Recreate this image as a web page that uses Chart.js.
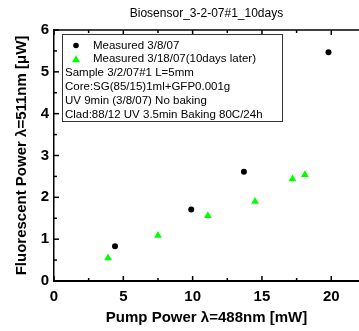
<!DOCTYPE html>
<html>
<head>
<meta charset="utf-8">
<script src="https://cdn.jsdelivr.net/npm/chart.js@4.4.0/dist/chart.umd.min.js"></script>
<style>
html, body { margin: 0; padding: 0; background: #fff; }
</style>
</head>
<body>
<canvas id="grafico" width="359" height="331"></canvas>
<script>
// datos
var medido_x = [4.4, 9.9, 13.7, 19.8];
var medido_y = [0.83, 1.71, 2.61, 5.47];
var despues_x = [3.9, 7.5, 11.1, 14.5, 17.2, 18.1];
var despues_y = [0.55, 1.09, 1.56, 1.9, 2.44, 2.54];
var nombre_series = ['Measured 3/8/07', 'Measured 3/18/07(10days later)'];
var notas = [
	'Sample 3/2/07#1 L=5mm',
	'Core:SG(85/15)1ml+GFP0.001g',
	'UV 9min (3/8/07) No baking',
	'Clad:88/12 UV 3.5min Baking 80C/24h'
];
var x_ticks = [0, 5, 10, 15, 20];
var y_ticks = [0, 1, 2, 3, 4, 5, 6];

function puntos(xs, ys) {
	var out = [];
	for (var i in xs) {
		out.push({x: xs[i], y: ys[i]});
	}
	return out;
}

// ticks hacia adentro + marco + caja de leyenda
var extras = {
	id: 'extras',
	afterDatasetsDraw: function(chart) {
		var ctx = chart.ctx;
		var a = chart.chartArea;
		var sx = chart.scales.x, sy = chart.scales.y;
		ctx.save();
		ctx.strokeStyle = '#000';
		ctx.lineWidth = 1.5;
		// linea de arriba
		ctx.beginPath();
		ctx.moveTo(a.left, a.top);
		ctx.lineTo(a.right, a.top);
		ctx.stroke();
		// ticks x
		for (var v = 0; v <= sx.max; v += 2.5) {
			var px = sx.getPixelForValue(v);
			var len = (v % 5 === 0) ? 5 : 3;
			ctx.beginPath();
			ctx.moveTo(px, a.bottom);
			ctx.lineTo(px, a.bottom - len);
			ctx.moveTo(px, a.top);
			ctx.lineTo(px, a.top + len);
			ctx.stroke();
		}
		// ticks y
		for (var w = 0; w <= sy.max; w += 0.5) {
			var py = sy.getPixelForValue(w);
			var l2 = (w % 1 === 0) ? 5 : 3;
			ctx.beginPath();
			ctx.moveTo(a.left, py);
			ctx.lineTo(a.left + l2, py);
			ctx.stroke();
		}
		// caja de leyenda
		var bx = 62, by = 34, bw = 220, bh = 87;
		ctx.fillStyle = '#fff';
		ctx.fillRect(bx, by, bw, bh);
		ctx.lineWidth = 1;
		ctx.strokeStyle = '#333';
		ctx.strokeRect(bx + 0.5, by + 0.5, bw, bh);

		ctx.font = '11.5px "Liberation Sans"';
		ctx.textBaseline = 'middle';
		ctx.fillStyle = '#000';
		var fila = 13.8;
		var y0 = 45.5;
		// marcadores
		ctx.beginPath();
		ctx.arc(76, y0, 2.8, 0, Math.PI * 2);
		ctx.fill();
		ctx.fillStyle = '#00ff00';
		ctx.beginPath();
		ctx.moveTo(76, y0 + fila - 4);
		ctx.lineTo(80, y0 + fila + 3);
		ctx.lineTo(72, y0 + fila + 3);
		ctx.closePath();
		ctx.fill();
		ctx.fillStyle = '#000';
		ctx.fillText(nombre_series[0], 93, y0);
		ctx.fillText(nombre_series[1], 93, y0 + fila);
		for (var i = 0; i < notas.length; i++) {
			ctx.fillText(notas[i], 65, y0 + fila * (i + 2));
		}
		ctx.restore();
	}
};

var chartdata = {
	datasets: [
		{
			label: nombre_series[0],
			data: puntos(medido_x, medido_y),
			pointStyle: 'circle',
			pointRadius: 3,
			backgroundColor: '#000',
			borderColor: '#000',
			borderWidth: 0,
			showLine: false
		},
		{
			label: nombre_series[1],
			data: puntos(despues_x, despues_y),
			pointStyle: 'triangle',
			pointRadius: 4.5,
			backgroundColor: '#00ff00',
			borderColor: '#00ff00',
			borderWidth: 0,
			showLine: false
		}
	]
};

var ctx = document.getElementById('grafico');

var grafico = new Chart(ctx, {
	type: 'scatter',
	data: chartdata,
	options: {
		responsive: false,
		animation: false,
		devicePixelRatio: 1,
		layout: { autoPadding: false, padding: 0 },
		plugins: {
			legend: { display: false },
			tooltip: { enabled: false },
			title: {
				display: true,
				fullSize: false,
				text: 'Biosensor_3-2-07#1_10days',
				color: '#000',
				font: { family: 'Liberation Sans', size: 12, weight: 'normal', lineHeight: 1.2 },
				padding: { top: 6, bottom: 9.6 }
			}
		},
		scales: {
			x: {
				type: 'linear',
				min: 0,
				max: 22,
				afterBuildTicks: function(s) { s.ticks = x_ticks.map(function(v) { return {value: v}; }); },
				afterFit: function(s) { s.height = 50; },
				grid: { display: false, drawTicks: false },
				border: { display: true, color: '#000', width: 2 },
				ticks: {
					padding: 7,
					maxRotation: 0,
					color: '#000',
					font: { family: 'Liberation Sans', size: 15, weight: 'bold' }
				},
				title: {
					display: true,
					text: 'Pump Power λ=488nm [mW]',
					color: '#000',
					font: { family: 'Liberation Sans', size: 15, weight: 'bold', lineHeight: 1.2 },
					padding: { top: 4, bottom: 4 }
				}
			},
			y: {
				type: 'linear',
				min: 0,
				max: 6,
				afterBuildTicks: function(s) { s.ticks = y_ticks.map(function(v) { return {value: v}; }); },
				afterFit: function(s) { s.width = 54; },
				grid: { display: false, drawTicks: false },
				border: { display: true, color: '#000', width: 1.5 },
				ticks: {
					padding: 5,
					color: '#000',
					font: { family: 'Liberation Sans', size: 15, weight: 'bold' }
				},
				title: {
					display: true,
					text: 'Fluorescent Power λ=511nm [μW]',
					color: '#000',
					font: { family: 'Liberation Sans', size: 15, weight: 'bold', lineHeight: 1.2 },
					padding: { top: 13, bottom: 0 }
				}
			}
		}
	},
	plugins: [extras]
});
</script>
</body>
</html>
